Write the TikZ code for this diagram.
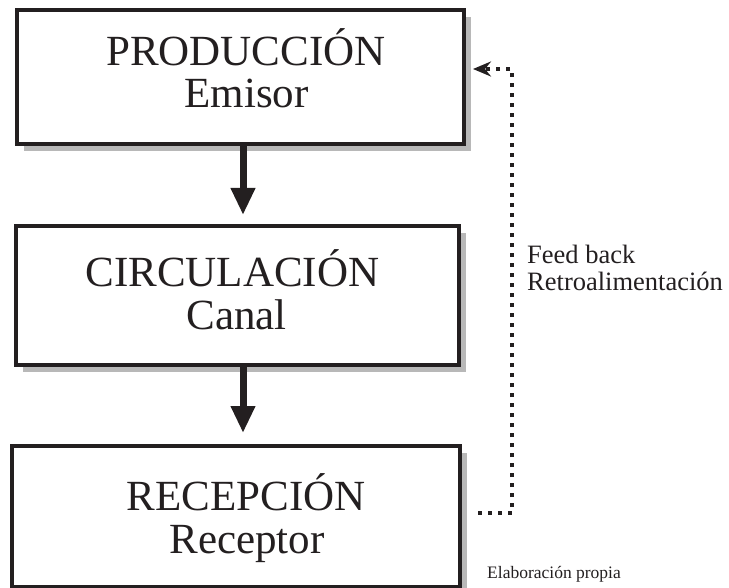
\documentclass[tikz,border=0pt]{standalone}
\usepackage{fontspec}
\setmainfont{Liberation Serif}
\usepackage{xcolor}
\usepackage{tikz}
\usetikzlibrary{arrows.meta,positioning,shadows}

\definecolor{tinta}{RGB}{35,31,32}
\definecolor{sombra}{RGB}{184,184,184}

\begin{document}
\begin{tikzpicture}[x=1pt,y=-1pt,
      caja/.style={draw=tinta,line width=4pt,fill=white,
                   drop shadow={shadow xshift=7pt,shadow yshift=-7pt,
                                fill=sombra,opacity=1}},
      titulo/.style={anchor=base,inner sep=0pt,text=tinta,
                     font=\fontsize{43}{43}\selectfont},
      nota/.style={anchor=base west,inner sep=0pt,text=tinta,
                   font=\fontsize{26.5}{26.5}\selectfont},
      flecha/.style={-{Triangle[length=27pt,width=23pt]},line width=7pt,
                     color=tinta},
      retro/.style={-{Stealth[length=18pt,width=15pt,inset=6pt]},
                    line width=4pt,color=tinta,dash pattern=on 4pt off 6pt}]
      \useasboundingbox (0,0) rectangle (729,588);

      % cajas
      \node[caja,minimum width=447pt,minimum height=133.5pt] (prod) at (240.5,77.25) {};
      \node[caja,minimum width=443.5pt,minimum height=139.5pt] (circ) at (237.25,295.75) {};
      \node[caja,minimum width=447.5pt,minimum height=140.5pt] (recep) at (235.75,516.25) {};

      \node[titulo] (prodA) at (246,66) {PRODUCCIÓN};
      \node[titulo] (prodB) at (246.5,108) {Emisor};
      \node[titulo] (circA) at (232.5,287) {CIRCULACIÓN};
      \node[titulo] (circB) at (236.5,330) {Canal};
      \node[titulo] (recepA) at (246,510) {RECEPCIÓN};
      \node[titulo] (recepB) at (247,553) {Receptor};

      \draw[flecha,shorten >=9pt] ([xshift=2.5pt]prod.south) -- ([xshift=5.75pt]circ.north);
      \draw[flecha,shorten >=11pt] ([xshift=5.75pt]circ.south) -- ([xshift=7.25pt]recep.north);

      % retroalimentacion
      \coordinate (fbIni) at (478,513);
      \coordinate (fbBaj) at (512,513);
      \coordinate (fbAlt) at (512,69);
      \coordinate (fbFin) at (473,69);
      \draw[retro] (fbIni) -- (fbBaj) -- (fbAlt) -- (fbFin);

      \node[nota] (fb1) at (527,264) {Feed back};
      \node[nota] (fb2) at (527,291) {Retroalimentación};
      \node[anchor=base west,inner sep=0pt,text=tinta,
            font=\fontsize{17.5}{17.5}\selectfont] (fuente) at (487,578) {Elaboración propia};
    \end{tikzpicture}
\end{document}
